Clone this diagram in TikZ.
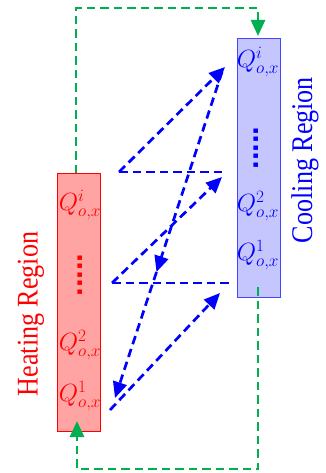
\documentclass[tikz,border=0pt]{standalone}
\usepackage{fontspec}
\usepackage{graphicx}
\setmainfont{Liberation Serif}
\newfontfamily\dotfont{Liberation Sans}
\usetikzlibrary{arrows.meta}
\definecolor{hfill}{RGB}{255,163,163}
\definecolor{cfill}{RGB}{198,198,255}
\definecolor{cedge}{RGB}{70,70,255}
\definecolor{gline}{RGB}{0,176,80}
\begin{document}
\begin{tikzpicture}[x=1pt,y=-1pt,
  hbox/.style={draw=red, fill=hfill, line width=1pt, minimum width=43pt, minimum height=258pt, inner sep=0pt},
  cbox/.style={draw=cedge, fill=cfill, line width=1pt, minimum width=43pt, minimum height=258pt, inner sep=0pt},
  flow/.style={draw=blue, line width=2.7pt, dash pattern=on 8.5pt off 5pt},
  loopline/.style={draw=gline, line width=2.7pt, dash pattern=on 8.5pt off 5pt},
  tipb/.style={-{Triangle[length=16pt,width=14pt]}},
  qlab/.style={font=\fontsize{23}{26}\selectfont, inner sep=0pt},
  region/.style={rotate=90, font=\fontsize{30}{32}\selectfont, inner sep=0pt},
  dots/.style={rotate=90, font=\dotfont\bfseries\fontsize{31}{31}\selectfont, inner sep=0pt}
]
\useasboundingbox (0,0) rectangle (325,473);

% boxes
\node[hbox] (heat) at (78.5,302) {};
\node[cbox] (cool) at (258.5,168) {};

% heating labels
\node[qlab, red] (hi) at (80,205) {$Q^{i}_{o,x}$};
\node[dots, red] (hd) at (80.5,275) {.....};
\node[qlab, red] (h2) at (80,345) {$Q^{2}_{o,x}$};
\node[qlab, red] (h1) at (80,396) {$Q^{1}_{o,x}$};

% cooling labels
\node[qlab, blue] (ci) at (258,62) {$Q^{i}_{o,x}$};
\node[dots, blue] (cd) at (256.5,148) {.....};
\node[qlab, blue] (c2) at (258,206) {$Q^{2}_{o,x}$};
\node[qlab, blue] (c1) at (258,255) {$Q^{1}_{o,x}$};

% region titles
\node[region, red] (hr) at (31,314) {\scalebox{0.87}[1]{Heating Region}};
\node[region, blue] (cr) at (305,160) {\scalebox{0.87}[1]{Cooling Region}};

% blue coordinates
\coordinate (a1s) at (110,410);
\coordinate (a1e) at (220,293);
\coordinate (l1a) at (112,283);
\coordinate (l1b) at (229,283);
\coordinate (a2e) at (222,177);
\coordinate (l2a) at (119,172);
\coordinate (l2b) at (222,172);
\coordinate (a3e) at (225,67);
\coordinate (ds) at (222,72);
\coordinate (dm) at (156.5,272);
\coordinate (de) at (115,398);

% blue dashed flows
\draw[flow, tipb] (a1s) -- (a1e);
\draw[flow] (l1a) -- (l1b);
\draw[flow, tipb] (l1a) -- (a2e);
\draw[flow] (l2a) -- (l2b);
\draw[flow, tipb] (l2a) -- (a3e);
\draw[flow, tipb] (ds) -- (dm);
\draw[flow, tipb] (dm) -- (de);

% green loop
\coordinate (g1) at (76,173);
\coordinate (g2) at (76,8);
\coordinate (g3) at (258,8);
\coordinate (g4) at (258,36);
\coordinate (g5) at (258,287);
\coordinate (g6) at (258,469);
\coordinate (g7) at (77,469);
\coordinate (g8) at (77,421);
\draw[loopline, tipb] (g1) -- (g2) -- (g3) -- (g4);
\draw[loopline, tipb] (g5) -- (g6) -- (g7) -- (g8);
\end{tikzpicture}
\end{document}
